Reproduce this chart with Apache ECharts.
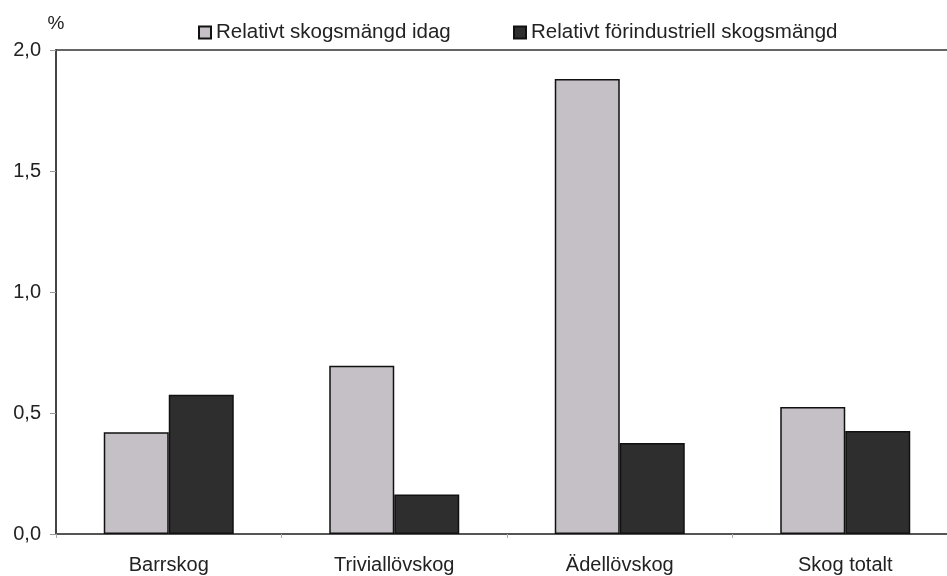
<!DOCTYPE html>
<html>
<head>
<meta charset="utf-8">
<script src="https://cdn.jsdelivr.net/npm/echarts@6/dist/echarts.min.js"></script>
<style>
html,body{margin:0;padding:0;background:#fff;}
#c{width:947px;height:576px;}
</style>
</head>
<body>
<div id="c"></div>
<script>
const categories = ['Barrskog', 'Triviallövskog', 'Ädellövskog', 'Skog totalt'];
const seriesNames = ['Relativt skogsmängd idag', 'Relativt förindustriell skogsmängd'];
const valuesToday = [0.42, 0.695, 1.88, 0.525];
const valuesPreindustrial = [0.575, 0.163, 0.376, 0.426];
const yTicks = [0, 0.5, 1.0, 1.5, 2.0];

const font = 'Liberation Sans, Arial, sans-serif';
const chart = echarts.init(document.getElementById('c'), null, {renderer: 'canvas'});
chart.setOption({
  animation: false,
  backgroundColor: '#ffffff',
  textStyle: {fontFamily: font, color: '#222'},
  legend: [
    {
      data: [seriesNames[0]], left: 193, top: 17, itemWidth: 12, itemHeight: 12,
      itemGap: 4, icon: 'rect',
      textStyle: {fontSize: 20.5, color: '#222', fontFamily: font}
    },
    {
      data: [seriesNames[1]], left: 508, top: 17, itemWidth: 12, itemHeight: 12,
      itemGap: 4, icon: 'rect',
      textStyle: {fontSize: 20.5, color: '#222', fontFamily: font}
    }
  ],
  grid: {
    left: 56, top: 50, right: -11, bottom: 42,
    show: true, borderColor: '#333', borderWidth: 1.5, backgroundColor: 'transparent',
    outerBoundsMode: 'none'
  },
  xAxis: {
    type: 'category',
    data: categories,
    axisLine: {lineStyle: {color: '#555', width: 2}},
    axisTick: {show: true, length: 4, lineStyle: {color: '#aaa'}},
    axisLabel: {fontSize: 20, color: '#222', margin: 21, fontFamily: font}
  },
  yAxis: {
    type: 'value',
    min: 0, max: 2, interval: 0.5,
    name: '%', nameLocation: 'end', nameGap: 26,
    nameTextStyle: {fontSize: 19, color: '#222', align: 'center', verticalAlign: 'middle', fontFamily: font},
    splitLine: {show: false},
    axisLine: {show: true, lineStyle: {color: '#444', width: 2}},
    axisTick: {show: true, length: 6, lineStyle: {color: '#999'}},
    axisLabel: {
      fontSize: 20, color: '#222', margin: 15, fontFamily: font,
      formatter: v => yTicks.includes(v) ? v.toFixed(1).replace('.', ',') : ''
    }
  },
  series: [
    {
      name: seriesNames[0], type: 'bar', data: valuesToday,
      barWidth: 65, barGap: '0%',
      itemStyle: {color: '#c4c0c5', borderColor: '#111', borderWidth: 1.5}
    },
    {
      name: seriesNames[1], type: 'bar', data: valuesPreindustrial,
      barWidth: 65, barGap: '0%',
      itemStyle: {color: '#2e2e2e', borderColor: '#111', borderWidth: 1.5}
    }
  ]
});
</script>
</body>
</html>
